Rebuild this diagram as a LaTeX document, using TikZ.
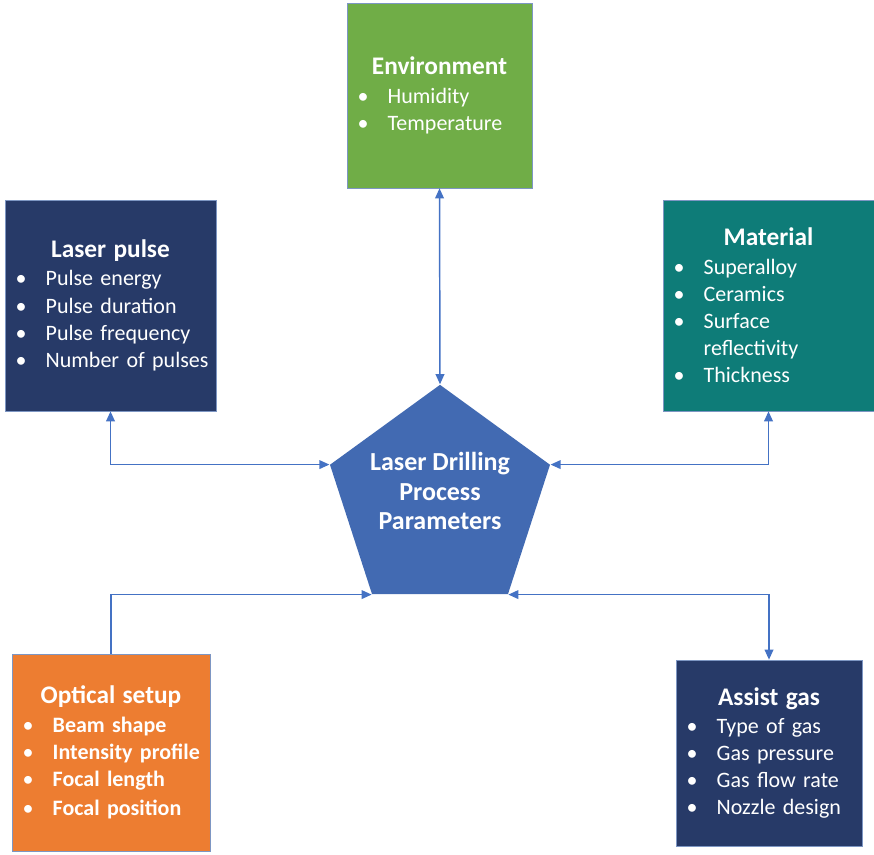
\documentclass[tikz,border=0pt]{standalone}
\usepackage{fontspec}
\setmainfont{Carlito}
\usetikzlibrary{shapes.geometric,arrows.meta}

\definecolor{envgreen}{RGB}{112,173,71}
\definecolor{pulsenavy}{RGB}{39,58,104}
\definecolor{matteal}{RGB}{14,124,120}
\definecolor{optorange}{RGB}{237,125,49}
\definecolor{coreblue}{RGB}{66,106,178}
\definecolor{linkblue}{RGB}{68,114,196}
\definecolor{edgeblue}{RGB}{125,150,195}

% bullet line and box heading
\newcommand{\itm}[1]{\mbox{\makebox[22.5pt][l]{\mdseries\textbullet}#1}}
\newcommand{\ttl}[1]{\makebox[\hsize][c]{\fontsize{19}{22}\selectfont\bfseries #1}\\[0.8pt]}

\tikzset{every picture/.style={line width=0.75pt}}
\tikzset{
  panel/.style={rectangle, draw=edgeblue, line width=0.5pt, text=white,
    inner xsep=8pt, inner ysep=0pt, align=left,
    font=\fontsize{16.5}{20.4}\selectfont},
  link/.style={draw=linkblue, line width=1.1pt},
  >={Triangle[length=7.5pt,width=6.5pt]}
}

\begin{document}
\begin{tikzpicture}[x=0.75pt,y=0.75pt,yscale=-1,xscale=1]
\useasboundingbox (0,0) rectangle (874,854);

% Text Node
\node[regular polygon, regular polygon sides=5, minimum size=173.5pt, inner sep=0pt, fill=coreblue] (core) at (440,500.5) {};
\node[text=white, align=center, font=\fontsize{19.5}{22}\selectfont\bfseries] (coretext) at (440,491) {Laser Drilling\\Process\\Parameters};
% Text Node
\node[panel, fill=envgreen, minimum width=138.75pt, minimum height=138.75pt, text width=122.75pt] (env) at (439.5,95.5)
  {\ttl{Environment}\itm{Humidity}\\\itm{Temperature}};
% Text Node
\node[panel, fill=pulsenavy, minimum width=158.25pt, minimum height=158.25pt, text width=142.25pt] (pulse) at (110.5,305.5)
  {\ttl{Laser pulse}\itm{Pulse energy}\\\itm{Pulse duration}\\\itm{Pulse frequency}\\\itm{Number of pulses}};
% Text Node
\node[panel, fill=matteal, minimum width=158.25pt, minimum height=158.25pt, text width=142.25pt] (mat) at (768.5,305.5)
  {\ttl{Material}\itm{Superalloy}\\\itm{Ceramics}\\\itm{Surface}\\\hspace*{22.5pt}reflectivity\\\itm{Thickness}};
% Text Node
\node[panel, fill=optorange, minimum width=148.5pt, minimum height=147.75pt, text width=132.5pt] (optic) at (111,752.5)
  {\ttl{Optical setup}\bfseries\itm{Beam shape}\\\itm{Intensity profile}\\\itm{Focal length}\\[1.5pt]\itm{Focal position}};
% Text Node
\node[panel, fill=pulsenavy, minimum width=139.5pt, minimum height=139.5pt, text width=123.5pt] (gas) at (769,753)
  {\ttl{Assist gas}\itm{Type of gas}\\\itm{Gas pressure}\\\itm{Gas flow rate}\\\itm{Nozzle design}};

% Connection
\draw[link,<->] (env.south) -- (core.corner 1);
% Connection
\draw[link,<->] (pulse.south) |- (core.corner 2);
% Connection
\draw[link,<->] (mat.south) |- (core.corner 5);
% Connection
\draw[link,->] (optic.north) |- (core.corner 3);
% Connection
\draw[link,<->] (gas.north) |- (core.corner 4);

\end{tikzpicture}
\end{document}
